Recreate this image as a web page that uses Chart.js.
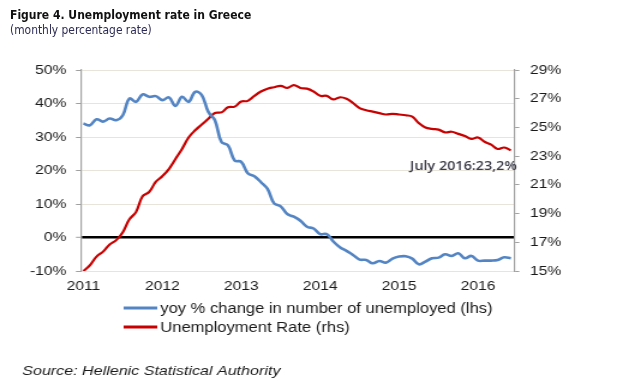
<!DOCTYPE html>
<html>
<head>
<meta charset="utf-8">
<script src="https://cdn.jsdelivr.net/npm/chart.js@4.4.1/dist/chart.umd.min.js"></script>
<style>
  body { margin: 0; background: #fff; }
  #wrap { position: relative; width: 623px; height: 387px; overflow: hidden; }
  #c { position: absolute; left: 0; top: 0; }
  .title { position: absolute; left: 10px; top: 7px; font: bold 12.5px "DejaVu Sans", sans-serif; color: #111; white-space: nowrap; transform: scaleX(0.865); transform-origin: 0 0; }
  .sub { position: absolute; left: 10px; top: 23px; font: 11.5px "DejaVu Sans", sans-serif; color: #2b2b55; white-space: nowrap; transform: scaleX(0.93); transform-origin: 0 0; }
</style>
</head>
<body>
<div id="wrap">
  <canvas id="c" width="519" height="387" style="width:623px;height:387px"></canvas>
  <div class="title">Figure 4. Unemployment rate in Greece</div>
  <div class="sub">(monthly percentage rate)</div>
</div>
<script>
// monthly data, Jan 2011 - Jun 2016
let yoyChange = [34.0, 33.5, 35.3, 34.6, 35.5, 35.0, 36.5, 41.5, 40.5, 42.7, 42.0, 42.2,
  41.0, 41.8, 39.3, 42.0, 40.5, 43.5, 42.5, 37.5, 35.0, 28.5, 27.5, 23.0,
  22.6, 19.2, 18.3, 16.5, 14.5, 10.2, 9.3, 7.0, 6.2, 5.0, 3.2, 2.7,
  1.0, 1.0, -1.2, -2.9, -4.0, -5.2, -6.6, -6.7, -7.7, -7.0, -7.5, -6.3,
  -5.7, -5.6, -6.3, -8.0, -7.2, -6.2, -6.0, -5.0, -5.5, -4.7, -6.2, -5.5,
  -6.9, -6.9, -6.9, -6.7, -5.9, -6.2];

let unempRate = [15.0, 15.4, 16.0, 16.35, 16.85, 17.15, 17.7, 18.6, 19.1, 20.2, 20.5, 21.2,
  21.6, 22.1, 22.8, 23.5, 24.3, 24.8, 25.2, 25.6, 26.0, 26.05, 26.4, 26.45,
  26.8, 26.85, 27.2, 27.5, 27.7, 27.8, 27.9, 27.75, 27.95, 27.75, 27.7, 27.5,
  27.2, 27.2, 26.95, 27.1, 27.0, 26.7, 26.35, 26.2, 26.1, 26.0, 25.9, 25.95,
  25.9, 25.85, 25.75, 25.3, 25.0, 24.9, 24.85, 24.65, 24.7, 24.55, 24.4, 24.2,
  24.3, 24.0, 23.8, 23.5, 23.6, 23.4];

let yearLabels = ["2011", "2012", "2013", "2014", "2015", "2016"];
let yearTicks = [0, 12, 24, 36, 48, 60];

let seriesNames = ["yoy % change in number of unemployed (lhs)", "Unemployment Rate (rhs)"];
let lastNote = "July 2016:23,2%";
let sourceText = "Source: Hellenic Statistical Authority";

let blueCol = "#5385c4";
let redCol = "#c80000";

let toPoints = arr => arr.map((v, i) => ({ x: i, y: v }));

// legend, source line and the end note
const extras = {
  id: "extras",
  afterDraw(chart) {
    const ctx = chart.ctx;
    ctx.save();
    ctx.font = "13.8px 'Liberation Sans', Arial, sans-serif";
    ctx.textBaseline = "middle";
    ctx.fillStyle = "#1a1a1a";
    const ys = [308, 327];
    chart.data.datasets.forEach((ds, k) => {
      ctx.strokeStyle = ds.borderColor;
      ctx.lineWidth = 3;
      ctx.beginPath();
      ctx.moveTo(103, ys[k]);
      ctx.lineTo(131, ys[k]);
      ctx.stroke();
      ctx.fillText(ds.label, 133.5, ys[k] + 1.5);
    });
    ctx.font = "italic 13.4px 'Liberation Sans', Arial, sans-serif";
    ctx.fillText(sourceText, 18.5, 371);

    const xs = chart.scales.x, y1 = chart.scales.y1;
    const n = unempRate.length - 1;
    ctx.font = "600 12px 'Open Sans', sans-serif";
    ctx.fillStyle = "#3a3a48";
    ctx.textAlign = "right";
    ctx.fillText(lastNote, xs.getPixelForValue(n) + 5, y1.getPixelForValue(unempRate[n]) + 16);
    ctx.restore();
  }
};

const tickFont = { family: "'Liberation Sans', Arial, sans-serif", size: 13 };

new Chart(document.getElementById("c"), {
  type: "line",
  data: {
    datasets: [{
      label: seriesNames[0],
      data: toPoints(yoyChange),
      yAxisID: "y",
      borderColor: blueCol,
      borderWidth: 2.6,
      pointRadius: 0,
      tension: 0.4
    }, {
      label: seriesNames[1],
      data: toPoints(unempRate),
      yAxisID: "y1",
      borderColor: redCol,
      borderWidth: 2.2,
      pointRadius: 0,
      tension: 0.4
    }]
  },
  options: {
    responsive: false,
    animation: false,
    layout: { padding: { top: 70, bottom: 91, left: 0, right: 0 } },
    plugins: { legend: { display: false }, tooltip: { enabled: false } },
    scales: {
      x: {
        type: "linear",
        min: -0.4,
        max: 65.55,
        grid: { display: false },
        border: { display: false },
        afterBuildTicks: s => { s.ticks = yearTicks.map(v => ({ value: v })); },
        afterFit: s => { s.height = 25; },
        ticks: {
          autoSkip: false,
          maxRotation: 0,
          padding: 0,
          color: "#1a1a1a",
          font: tickFont,
          callback: v => yearLabels[yearTicks.indexOf(v)] || ""
        }
      },
      y: {
        position: "left",
        min: -10,
        max: 50,
        afterFit: s => { s.width = 67.25; },
        border: { color: "#a0a0a0", width: 1.2 },
        grid: {
          color: c => c.tick && c.tick.value === 0 ? "#000" : "#e8e4da",
          lineWidth: c => c.tick && c.tick.value === 0 ? 2.6 : 1,
          tickColor: "#a0a0a0",
          tickWidth: 1,
          tickLength: 4
        },
        ticks: { stepSize: 10, padding: 8, color: "#1a1a1a", font: tickFont, callback: v => v + "%" }
      },
      y1: {
        position: "right",
        min: 15,
        max: 29,
        afterFit: s => { s.width = 90.4; },
        border: { color: "#a0a0a0", width: 1.2 },
        grid: { drawOnChartArea: false, tickColor: "#a0a0a0", tickLength: 4 },
        ticks: { stepSize: 2, padding: 9, color: "#1a1a1a", font: tickFont, callback: v => v + "%" }
      }
    }
  },
  plugins: [extras]
});
</script>
</body>
</html>
